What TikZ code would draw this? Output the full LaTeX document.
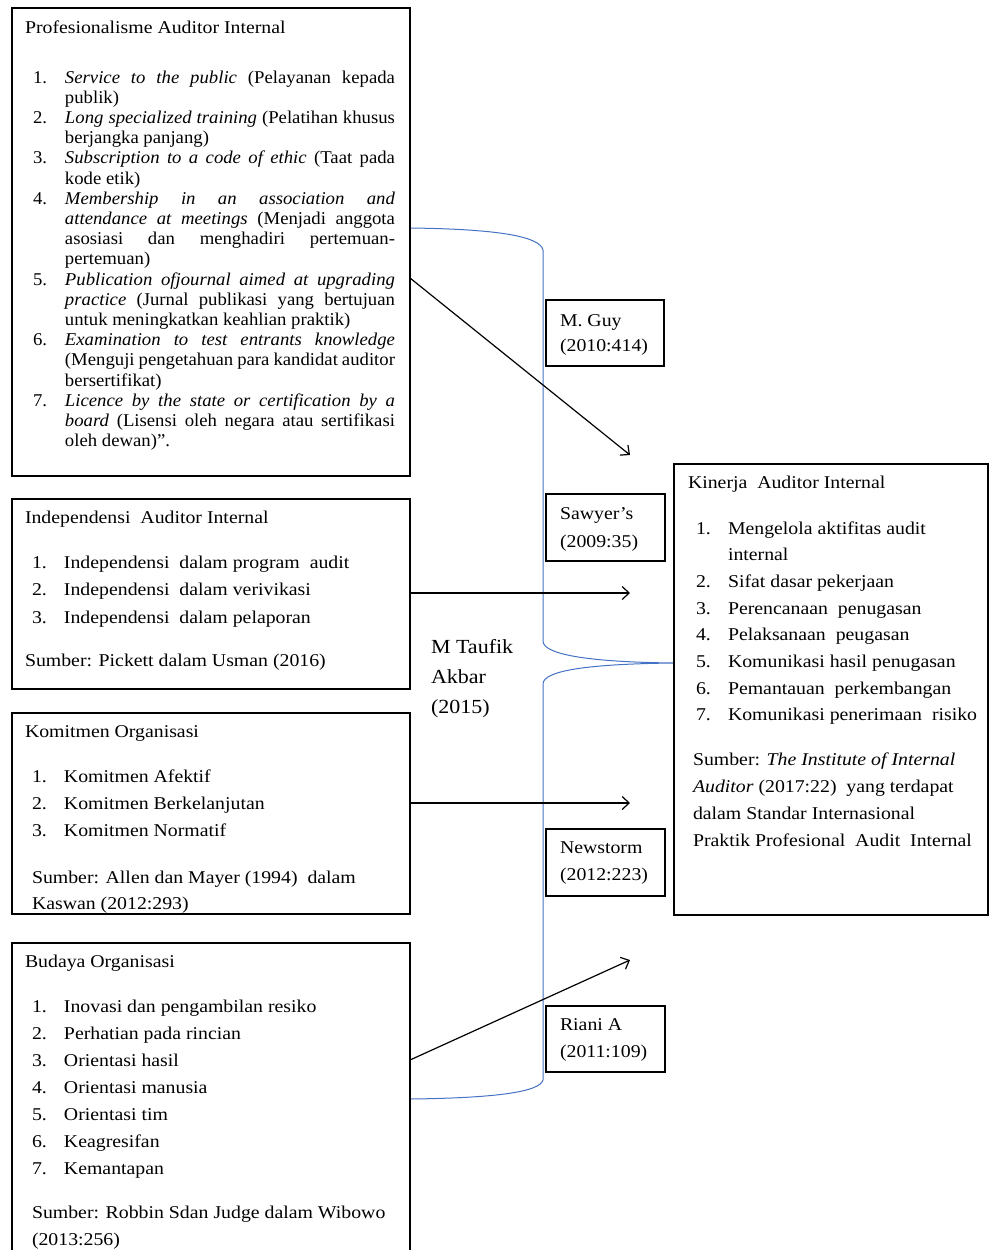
\documentclass[tikz,border=0pt]{standalone}
\usepackage{fontspec}
\setmainfont[FakeStretch=1.1]{Liberation Serif}
\newfontfamily\narrowserif[FakeStretch=1.04]{Liberation Serif}
\usetikzlibrary{arrows.meta}
\definecolor{bracecol}{RGB}{68,114,196}
\newcommand{\fs}{\fontsize{18}{20}\selectfont}
\newcommand{\fsbig}{\fontsize{20}{24}\selectfont}
\newcommand{\blk}[2]{\vtop{\baselineskip=#1pt\lineskiplimit=-30pt\lineskip=0pt #2}}
\newcommand{\jrow}[2]{\hbox{\hbox to 32pt{#1\hss}\makebox[330pt][s]{#2}}}
\newcommand{\prow}[2]{\hbox{\hbox to 32pt{#1\hss}#2}}
\begin{document}
\begin{tikzpicture}[x=1pt,y=-1pt,
  box/.style={draw=black, line width=1.3pt, anchor=north west, inner sep=0pt, outer sep=0pt},
  txt/.style={anchor=base west, inner sep=0pt, outer sep=0pt, font=\fs},
  arr/.style={draw=black, line width=1.2pt, -{Straight Barb[length=7pt,width=13pt,line width=1.2pt]}},
  brace/.style={draw=bracecol, line width=1pt}]
\useasboundingbox (0,0) rectangle (989,1250);

% blue brace
\coordinate (bt) at (410,228);
\coordinate (bj1) at (543,250);
\coordinate (bm1) at (543,641);
\coordinate (tip) at (674,663);
\coordinate (bm2) at (543,684);
\coordinate (bj2) at (543,1080);
\coordinate (bb) at (410,1099);
\draw[brace] (bt) .. controls (495,229) and (540,236) .. (bj1) -- (bm1)
  .. controls (543,654) and (585,662) .. (tip)
  .. controls (585,664) and (543,671) .. (bm2) -- (bj2)
  .. controls (540,1092) and (495,1098) .. (bb);

% boxes
\node[box, minimum width=398pt, minimum height=468pt] (b1) at (12,8) {};
\node[box, minimum width=398pt, minimum height=190pt] (b2) at (12,499) {};
\node[box, minimum width=398pt, minimum height=201pt] (b3) at (12,713) {};
\node[box, minimum width=398pt, minimum height=320pt] (b4) at (12,943) {};
\node[box, minimum width=314pt, minimum height=451pt] (b5) at (674,464) {};
\node[box, minimum width=118pt, minimum height=66pt] (g) at (546,300) {};
\node[box, minimum width=119pt, minimum height=67pt] (sw) at (546,494) {};
\node[box, minimum width=119pt, minimum height=67pt] (nw) at (546,829) {};
\node[box, minimum width=119pt, minimum height=66pt] (ri) at (546,1006) {};

% box 1
\node[txt] (t1) at (25,33) {Profesionalisme Auditor Internal};
\node[txt, font=\fs\narrowserif] (l1) at (33,83) {\blk{20.2}{%
\jrow{1.}{\textit{Service to the public} (Pelayanan kepada}
\prow{}{publik)}
\jrow{2.}{\textit{Long specialized training} (Pelatihan khusus}
\prow{}{berjangka panjang)}
\jrow{3.}{\textit{Subscription to a code of ethic} (Taat pada}
\prow{}{kode etik)}
\jrow{4.}{\textit{Membership in an association and}}
\jrow{}{\textit{attendance at meetings} (Menjadi anggota}
\jrow{}{asosiasi dan menghadiri pertemuan-}
\prow{}{pertemuan)}
\jrow{5.}{\textit{Publication ofjournal aimed at upgrading}}
\jrow{}{\textit{practice} (Jurnal publikasi yang bertujuan}
\prow{}{untuk meningkatkan keahlian praktik)}
\jrow{6.}{\textit{Examination to test entrants knowledge}}
\jrow{}{(Menguji pengetahuan para kandidat auditor}
\prow{}{bersertifikat)}
\jrow{7.}{\textit{Licence by the state or certification by a}}
\jrow{}{\textit{board} (Lisensi oleh negara atau sertifikasi}
\prow{}{oleh dewan)”.}}};

% box 2
\node[txt] (t2) at (25,523) {Independensi\ \ Auditor Internal};
\node[txt] (l2) at (32,568) {\blk{27.5}{%
\prow{1.}{Independensi\ \ dalam program\ \ audit}
\prow{2.}{Independensi\ \ dalam verivikasi}
\prow{3.}{Independensi\ \ dalam pelaporan}}};
\node[txt] (s2) at (25,666) {Sumber: Pickett dalam Usman (2016)};

% box 3
\node[txt] (t3) at (25,737) {Komitmen Organisasi};
\node[txt] (l3) at (32,782) {\blk{27}{%
\prow{1.}{Komitmen Afektif}
\prow{2.}{Komitmen Berkelanjutan}
\prow{3.}{Komitmen Normatif}}};
\node[txt] (s3) at (32,883) {\blk{26}{%
\hbox{Sumber: Allen dan Mayer (1994)\ \ dalam}
\hbox{Kaswan (2012:293)}}};

% box 4
\node[txt] (t4) at (25,967) {Budaya Organisasi};
\node[txt] (l4) at (32,1012) {\blk{27}{%
\prow{1.}{Inovasi dan pengambilan resiko}
\prow{2.}{Perhatian pada rincian}
\prow{3.}{Orientasi hasil}
\prow{4.}{Orientasi manusia}
\prow{5.}{Orientasi tim}
\prow{6.}{Keagresifan}
\prow{7.}{Kemantapan}}};
\node[txt] (s4) at (32,1218) {\blk{27}{%
\hbox{Sumber: Robbin Sdan Judge dalam Wibowo}
\hbox{(2013:256)}}};

% Kinerja
\node[txt] (t5) at (688,488) {Kinerja\ \ Auditor Internal};
\node[txt] (l5) at (696,534) {\blk{26.7}{%
\prow{1.}{Mengelola aktifitas audit}
\prow{}{internal}
\prow{2.}{Sifat dasar pekerjaan}
\prow{3.}{Perencanaan\ \ penugasan}
\prow{4.}{Pelaksanaan\ \ peugasan}
\prow{5.}{Komunikasi hasil penugasan}
\prow{6.}{Pemantauan\ \ perkembangan}
\prow{7.}{Komunikasi penerimaan\ \ risiko}}};
\node[txt] (s5) at (693,765) {\blk{27}{%
\hbox{Sumber: \textit{The Institute of Internal}}
\hbox{\textit{Auditor} (2017:22)\ \ yang terdapat}
\hbox{dalam Standar Internasional}
\hbox{Praktik Profesional\ \ Audit\ \ Internal}}};

% small boxes text
\node[txt] (gt) at (560,326) {\blk{25}{\hbox{M. Guy}\hbox{(2010:414)}}};
\node[txt] (swt) at (560,519) {\blk{28}{\hbox{Sawyer’s}\hbox{(2009:35)}}};
\node[txt] (nwt) at (560,853) {\blk{27}{\hbox{Newstorm}\hbox{(2012:223)}}};
\node[txt] (rit) at (560,1030) {\blk{27}{\hbox{Riani A}\hbox{(2011:109)}}};

% M Taufik Akbar
\node[txt, font=\fsbig] (mt) at (431,653) {\blk{30}{\hbox{M Taufik}\hbox{Akbar}\hbox{(2015)}}};

% arrows
\coordinate (a1s) at (410,278); \coordinate (a1e) at (630,455);
\coordinate (a2s) at (410,593); \coordinate (a2e) at (630,593);
\coordinate (a3s) at (410,803); \coordinate (a3e) at (630,803);
\coordinate (a4s) at (410,1060); \coordinate (a4e) at (630,960);
\draw[arr] (a1s) -- (a1e);
\draw[arr] (a2s) -- (a2e);
\draw[arr] (a3s) -- (a3e);
\draw[arr] (a4s) -- (a4e);
\end{tikzpicture}
\end{document}
